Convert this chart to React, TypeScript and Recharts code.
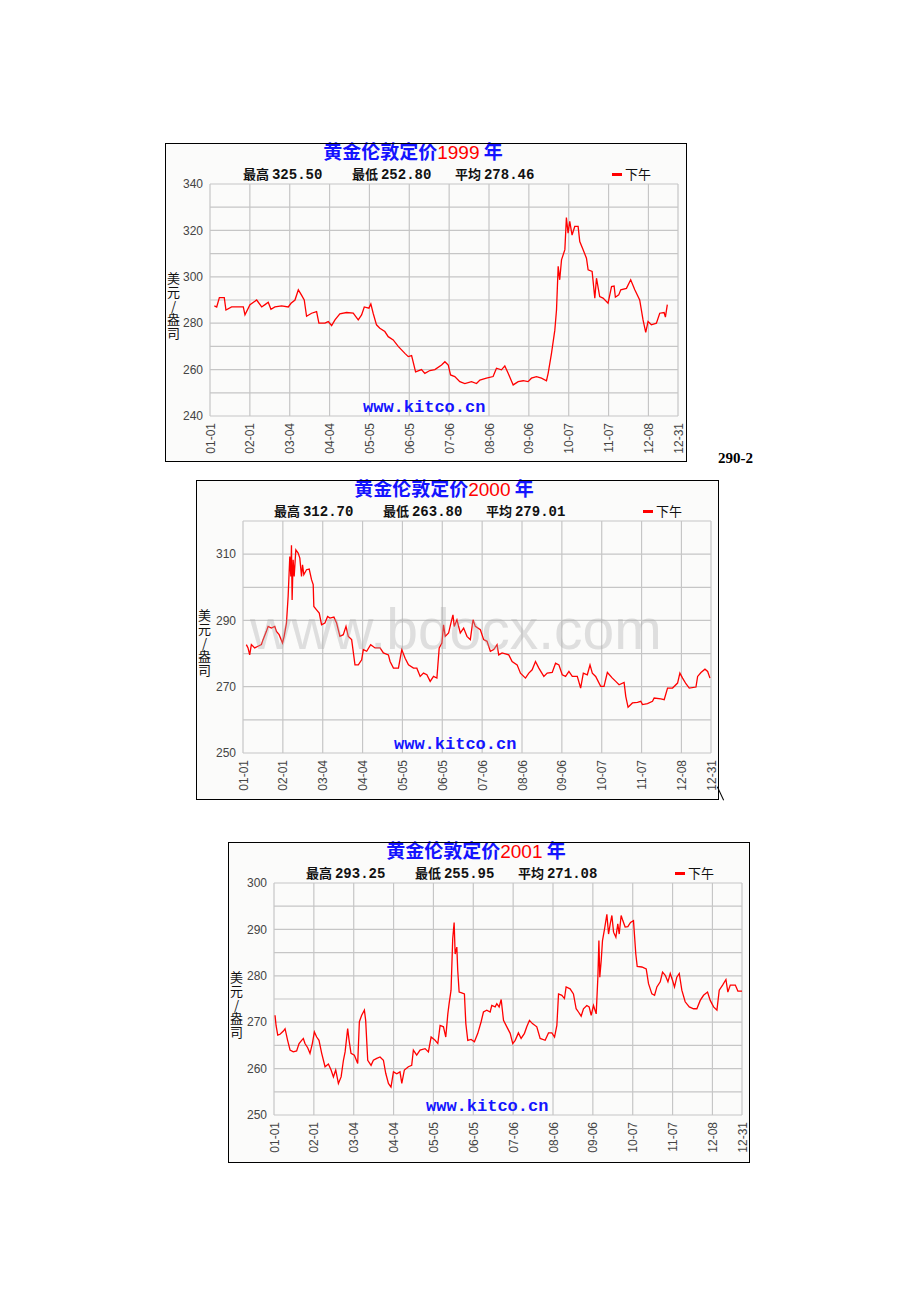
import React from "react";
import { LineChart, Line, XAxis, YAxis, CartesianGrid } from "recharts";

// x positions are day-of-year (0 = Jan 1), month grid lines as on kitco charts
const monthTicks = [0, 31, 62, 93, 124, 155, 186, 217, 248, 279, 310, 341, 364];
const monthLabels = ["01-01", "02-01", "03-04", "04-04", "05-05", "06-05", "07-06", "08-06", "09-06", "10-07", "11-07", "12-08", "12-31"];

const days1999 = [3.4, 5.2, 7.3, 11.1, 12.4, 16.8, 25.9, 27.2, 31.1, 36.3, 40.2, 42.8, 45.3, 47.4, 50.5, 55.7, 60.9, 63, 66.1, 68.7, 71.3, 73.3, 75.1, 79, 82.9, 84.7, 89.4, 92, 94.6, 97.2, 101, 106.2, 111.4, 115.3, 117.9, 120, 123.6, 125.1, 126.9, 129.5, 132.1, 136, 138.6, 142.5, 146.4, 151.6, 154.2, 156.8, 159.9, 164.5, 167.1, 171, 174.9, 180.1, 182.7, 185.3, 187.1, 190.4, 194.3, 198.2, 203.4, 207.3, 209.9, 215, 220.2, 222.8, 226.7, 229.3, 231.9, 235.8, 239.7, 243.6, 247.4, 250, 253.9, 257.8, 261.7, 263, 265.6, 268.2, 269.5, 270.8, 272, 273.4, 276, 277.2, 278.5, 279.8, 281.6, 283.7, 286.3, 287.6, 290.2, 292.8, 294.1, 297.2, 299.3, 300.6, 303.1, 305.7, 309.6, 312.3, 314.3, 315.3, 317.9, 319.5, 323.9, 327.2, 330.4, 334.2, 336.8, 338.9, 340.7, 343.3, 347.2, 349.8, 353.2, 354.2, 355.7];
const price1999 = [287.5, 287, 291, 291, 285.7, 287, 287, 283.6, 288, 290, 287, 288, 289, 286, 287, 287.5, 287, 288.6, 290, 294.4, 292, 290, 283, 284.3, 285, 280, 280, 280.7, 279, 281.4, 284, 284.6, 284.3, 281.4, 283.6, 287, 286.5, 288.3, 284.3, 279.3, 277.8, 276.4, 274.2, 272.8, 270, 267, 265.6, 266, 259, 260, 258.4, 259.6, 260, 262, 263.4, 262, 257.7, 257, 254.8, 254, 254.8, 254, 255.5, 256.3, 257, 260.6, 259.9, 261.6, 258.4, 253.4, 254.8, 255.2, 254.8, 256.3, 257, 256.3, 255.2, 258.4, 267, 277, 285.7, 304.5, 298.7, 307.3, 311.7, 325.5, 318.8, 323.9, 318, 321.7, 321.7, 315.2, 311.7, 308, 303, 302.3, 290.8, 299.4, 291.5, 290.8, 288.6, 295.8, 296, 291.2, 292.2, 294.4, 295, 298.7, 294.4, 290, 281.4, 276, 280.7, 279.3, 280, 284.3, 284.6, 282.6, 288];

const days2000 = [2.6, 3.9, 5.2, 6.5, 9.1, 11.7, 14.3, 15.6, 18.2, 19.5, 22.1, 24.7, 26, 28.1, 30.7, 32, 33.8, 35.1, 36.4, 37.2, 37.7, 38.2, 39, 39.8, 41.1, 42.9, 44.2, 45.5, 46.3, 47.3, 49.4, 51.5, 53.3, 54.6, 55.1, 57.2, 59.3, 61.1, 63.7, 65.8, 67.6, 70.7, 72.8, 75.4, 78, 80.1, 81.9, 84.5, 87.1, 89.7, 92.3, 93.6, 96.2, 99.3, 102.7, 106.6, 109.2, 113.1, 114.4, 117, 120.9, 123.5, 126.1, 128.7, 132.6, 135.2, 137.8, 140.4, 143, 145.6, 148.2, 150.8, 152.6, 154.7, 156, 157.3, 159.9, 161.7, 163.3, 164.3, 166.4, 169, 171.6, 174.2, 176.8, 178.9, 180.7, 184.6, 187.2, 189.8, 192.4, 195, 197.6, 198.9, 201.5, 206.7, 209.3, 213.2, 215.8, 219.7, 222.3, 224.9, 227.5, 230.1, 234, 236.6, 240.5, 243.1, 245.7, 248.3, 250.9, 253.5, 256.1, 260, 262.6, 264.7, 267.8, 269.9, 271.7, 274.3, 278.2, 280.8, 283.4, 287.3, 289.9, 292.5, 296.4, 297.7, 299.5, 302.9, 306.8, 309.4, 310.7, 314.6, 318.5, 319.8, 325, 327.6, 330.2, 334.1, 338, 339.8, 341.9, 344.5, 347.1, 352.3, 353.6, 356.2, 359.3, 361.4, 363.2];
const price2000 = [282.7, 281.7, 279.6, 282.7, 281.7, 282.2, 282.7, 284.2, 286.7, 288.2, 287.7, 288.2, 286.7, 285.7, 283.2, 285.2, 289.2, 297.2, 309.3, 303.3, 312.7, 296.2, 308.3, 303.3, 311.3, 310.3, 308.8, 303.3, 306.8, 303.8, 305.3, 305.5, 302.3, 300.8, 294.2, 293.2, 292.2, 288.7, 289.2, 291.2, 290.7, 291, 289.2, 285.2, 285.7, 288.2, 285.2, 284.2, 276.6, 276.6, 278.1, 281.2, 280.7, 282.7, 281.7, 281.7, 280.2, 279.6, 277.6, 275.6, 275.6, 281.2, 278.6, 276.6, 275.6, 275.6, 273.1, 274.1, 273.6, 271.6, 273.1, 272.6, 281.7, 283.2, 288.7, 285.2, 286.2, 289.2, 291.7, 288.2, 290.2, 286.2, 287.7, 285.2, 284.2, 290.2, 288.2, 287.2, 284.2, 283.7, 280.7, 281.2, 282.7, 279.6, 280.2, 279.6, 277.6, 276.6, 274.1, 272.6, 274.1, 275.1, 277.6, 275.6, 273.1, 274.1, 274.3, 277.1, 276.6, 273.6, 273.1, 274.6, 273.1, 273.1, 269.6, 274.1, 273.6, 276.6, 274.1, 273.1, 270.1, 270.1, 274.3, 272.6, 271.6, 270.6, 271.3, 267.1, 263.8, 265.1, 265.3, 265.6, 264.6, 264.9, 265.6, 266.6, 266.3, 266.1, 269.6, 269.6, 271.1, 274.1, 272.6, 270.9, 269.6, 269.9, 273.1, 274.3, 275.3, 274.6, 272.6];

const days2001 = [0.8, 1.6, 2.9, 4.7, 7.3, 8.6, 10.6, 12.5, 15, 17.6, 19.5, 21.5, 22.8, 24.1, 26.2, 28, 29.8, 31.4, 33.2, 35, 37.1, 39.7, 42.3, 44.4, 46.2, 48, 50.1, 52.2, 54, 55.3, 57.3, 58.4, 59.9, 62.5, 65.1, 66.4, 68.2, 70.3, 71.3, 72.9, 75.5, 77.3, 79.9, 82.5, 85.1, 86.9, 89, 91, 92.9, 95.5, 98, 99.4, 101.4, 104.5, 107.1, 108.4, 111, 113.6, 117.5, 120.1, 122.2, 125.3, 127.4, 129.2, 131.8, 133.6, 135.2, 136.2, 137.7, 139, 140.1, 140.9, 142.2, 142.9, 144, 146, 148.1, 149.2, 150.7, 153.3, 155.9, 158.5, 161.1, 162.9, 165.5, 168.1, 169.4, 172, 173.3, 175.1, 176.7, 178.5, 181.1, 183.7, 185.7, 187.6, 190.1, 192.2, 194.8, 196.6, 198.7, 201, 204.4, 207, 210.9, 213.5, 216.1, 218.2, 220, 221.3, 223.9, 225.9, 227.2, 230.3, 232.9, 235, 236.8, 238.9, 240.7, 243.3, 245.1, 246.7, 248.5, 250.6, 251.9, 252.7, 253.4, 254.5, 255.5, 257.1, 258.9, 260.2, 261.5, 262.8, 264.1, 265.9, 267.4, 268.5, 270, 271.3, 273.1, 275.2, 277.3, 279.6, 281.4, 282.5, 286.1, 289.5, 291.3, 293.9, 296, 297.8, 300.4, 302.2, 304.3, 306.4, 308.2, 310, 311.5, 313.3, 315.2, 317.2, 319.8, 323, 326.3, 328.9, 331.5, 334.1, 337.2, 339.3, 341.9, 344.5, 346.3, 348.9, 351.5, 353, 354.9, 358.8, 360.8, 364];
const price2001 = [271.5, 269.3, 267.2, 267.4, 268.1, 268.6, 266.1, 264, 263.6, 263.8, 265.4, 266.1, 266.5, 265.4, 264.5, 263.3, 265.4, 267.9, 266.8, 266.1, 263.3, 260.4, 261, 259.7, 258.2, 259.7, 256.8, 258.2, 261.8, 263.6, 268.6, 266.1, 263.3, 262.9, 261.1, 270.1, 271.5, 272.6, 270.4, 261.8, 260.7, 261.8, 262.2, 262.5, 261.8, 259, 256.8, 256, 259.3, 258.9, 259.3, 256.8, 259.7, 260.4, 260.7, 264, 262.9, 264, 264.3, 263.6, 266.8, 266.1, 265.4, 269.3, 269, 266.8, 271.8, 274, 276.9, 288, 291.5, 284.7, 286.2, 281.2, 276.5, 276.3, 276.1, 269.7, 266.1, 266.3, 265.8, 267.6, 270.1, 272.2, 272.6, 272.2, 273.6, 273.3, 274, 273.3, 274.9, 270.4, 269, 267.6, 265.4, 266.1, 267.7, 266.5, 267.6, 269, 270.4, 269.7, 269, 266.5, 266.1, 267.7, 267.7, 266.8, 269.3, 276.1, 275.8, 275.1, 277.6, 277.2, 276.1, 272.9, 272.2, 271.3, 272.9, 273.6, 273.3, 271.5, 273.6, 271.8, 279.7, 287.6, 279.7, 283.3, 287.6, 290.1, 293.25, 289, 291.2, 293, 289.4, 288.3, 291.2, 289, 293, 291.9, 290.5, 290.6, 291.5, 291.9, 284.7, 282, 281.9, 281.5, 278.3, 276.1, 275.8, 277.6, 278.7, 280.8, 280.1, 278.7, 280.5, 279, 277.6, 279.7, 280.5, 276.9, 274.4, 273.3, 272.9, 272.9, 274.7, 275.8, 276.5, 274.7, 273.3, 272.6, 276.9, 278, 279.2, 276.5, 278, 278, 276.7, 276.7];

const years = ["1999", "2000", "2001"];
const statHigh = ["325.50", "312.70", "293.25"];
const statLow = ["252.80", "263.80", "255.95"];
const statAvg = ["278.46", "279.01", "271.08"];

const yTicks1999 = [240, 250, 260, 270, 280, 290, 300, 310, 320, 330, 340];
const yLabels1999 = [240, 260, 280, 300, 320, 340];
const yTicks2000 = [250, 260, 270, 280, 290, 300, 310, 320];
const yLabels2000 = [250, 270, 290, 310];
const yTicks2001 = [250, 255, 260, 265, 270, 275, 280, 285, 290, 295, 300];
const yLabels2001 = [250, 260, 270, 280, 290, 300];

const PLOT_W = 468;
const PLOT_H = 232;
const PLOT_TOP = 41;
const CJK = '"Noto Sans CJK SC", sans-serif';
const MONO = '"Liberation Mono", "DejaVu Sans Mono", monospace';
const SANS = '"Liberation Sans", Arial, sans-serif';

const MonthTick = (props: any) => {
  const { x, y, payload } = props;
  const idx = monthTicks.indexOf(payload.value);
  return (
    <text
      x={x}
      y={y}
      dx={-7}
      dy={4.5}
      transform={`rotate(-90 ${x} ${y})`}
      textAnchor="end"
      fontSize={12}
      fontFamily={SANS}
      fill="#444"
    >
      {monthLabels[idx]}
    </text>
  );
};

interface GoldChartProps {
  left: number;
  top: number;
  width: number;
  height: number;
  plotLeft: number;
  index: number;
  days: number[];
  prices: number[];
  yTicks: number[];
  yLabels: number[];
}

function GoldChart({ left, top, width, height, plotLeft, index, days, prices, yTicks, yLabels }: GoldChartProps) {
  const data = days.map((d, i) => ({ day: d, price: prices[i] }));
  const statStyle: React.CSSProperties = {
    position: "absolute",
    top: 23,
    fontSize: 13,
    lineHeight: "16px",
    fontWeight: "bold",
    color: "#111",
    whiteSpace: "pre",
  };
  const stat = (label: string, value: string, x: number) => (
    <div style={{ ...statStyle, left: x }}>
      <span style={{ fontFamily: CJK }}>{label} </span>
      <span style={{ fontFamily: MONO, fontSize: 14 }}>{value}</span>
    </div>
  );

  return (
    <div style={{ position: "absolute", left, top, width, height, background: "#fbfbfa" }}>
      <LineChart
        width={width}
        height={height}
        data={data}
        margin={{ top: PLOT_TOP, right: width - plotLeft - PLOT_W, bottom: 0, left: 0 }}
      >
        <CartesianGrid stroke="#c6c6c6" strokeWidth={1.2} />
        <XAxis
          dataKey="day"
          type="number"
          domain={[0, 364]}
          ticks={monthTicks}
          interval={0}
          height={height - PLOT_TOP - PLOT_H}
          axisLine={false}
          tickLine={false}
          tickSize={0}
          tickMargin={0}
          tick={<MonthTick />}
        />
        <YAxis
          type="number"
          domain={[yTicks[0], yTicks[yTicks.length - 1]]}
          ticks={yTicks}
          interval={0}
          width={plotLeft}
          axisLine={false}
          tickLine={false}
          tickSize={0}
          tickMargin={7}
          tickFormatter={(v: number) => (yLabels.includes(v) ? String(v) : "")}
          tick={{ fontSize: 12, fill: "#444", fontFamily: SANS }}
        />
        <Line
          type="linear"
          dataKey="price"
          stroke="#ff0000"
          strokeWidth={1.3}
          dot={false}
          isAnimationActive={false}
        />
      </LineChart>

      {/* title */}
      <div
        style={{
          position: "absolute",
          left: 248,
          top: -3,
          transform: "translateX(-50%)",
          fontSize: 19,
          lineHeight: "21px",
          fontWeight: "bold",
          fontFamily: CJK,
          color: "#1414ff",
          whiteSpace: "pre",
        }}
      >
        黄金伦敦定价
        <span style={{ color: "#ff0000", fontWeight: "normal", fontFamily: SANS }}>{years[index]}</span>
        {" 年"}
      </div>

      {stat("最高", statHigh[index], 78)}
      {stat("最低", statLow[index], 187)}
      {stat("平均", statAvg[index], 290)}

      {/* legend */}
      <div style={{ position: "absolute", left: 447, top: 30, width: 10, height: 3, background: "#ff0000" }} />
      <div style={{ ...statStyle, left: 460, fontWeight: "normal", fontFamily: CJK }}>下午</div>

      {/* unit label, stacked upright */}
      <div
        style={{
          position: "absolute",
          left: 1,
          top: 129,
          writingMode: "vertical-rl",
          textOrientation: "upright",
          fontSize: 13,
          lineHeight: "15px",
          letterSpacing: "0.6px",
          fontFamily: CJK,
          color: "#111",
          whiteSpace: "pre",
        }}
      >
        美元/盎司
      </div>

      {/* site mark */}
      <div
        style={{
          position: "absolute",
          left: 198,
          top: PLOT_TOP + PLOT_H - 17,
          fontSize: 17,
          lineHeight: "18px",
          fontWeight: "bold",
          fontFamily: MONO,
          color: "#1414ff",
        }}
      >
        www.kitco.cn
      </div>

      <div
        style={{
          position: "absolute",
          inset: 0,
          border: "1px solid #000",
          boxSizing: "border-box",
          pointerEvents: "none",
        }}
      />
    </div>
  );
}

export default function App() {
  return (
    <div style={{ position: "absolute", left: 0, top: 0, width: 920, height: 1302, background: "#fff", overflow: "hidden" }}>
      <GoldChart left={165} top={143} width={522} height={319} plotLeft={45} index={0} days={days1999} prices={price1999} yTicks={yTicks1999} yLabels={yLabels1999} />
      <GoldChart left={196} top={480} width={523} height={320} plotLeft={47} index={1} days={days2000} prices={price2000} yTicks={yTicks2000} yLabels={yLabels2000} />
      <GoldChart left={228} top={842} width={522} height={321} plotLeft={46} index={2} days={days2001} prices={price2001} yTicks={yTicks2001} yLabels={yLabels2001} />

      {/* document watermark over the middle chart */}
      <div
        style={{
          position: "absolute",
          left: 250,
          top: 596,
          fontSize: 57,
          lineHeight: "66px",
          fontFamily: SANS,
          color: "rgba(170,170,170,0.35)",
          pointerEvents: "none",
          whiteSpace: "pre",
        }}
      >
        www.bdocx.com
      </div>

      <div
        style={{
          position: "absolute",
          left: 718,
          top: 449,
          fontSize: 15,
          lineHeight: "18px",
          fontWeight: "bold",
          fontFamily: '"Liberation Serif", "Times New Roman", serif',
          color: "#000",
        }}
      >
        290-2
      </div>
      <div style={{ position: "absolute", left: 720, top: 786, width: 1, height: 15, background: "#000", transform: "rotate(-25deg)" }} />
    </div>
  );
}
